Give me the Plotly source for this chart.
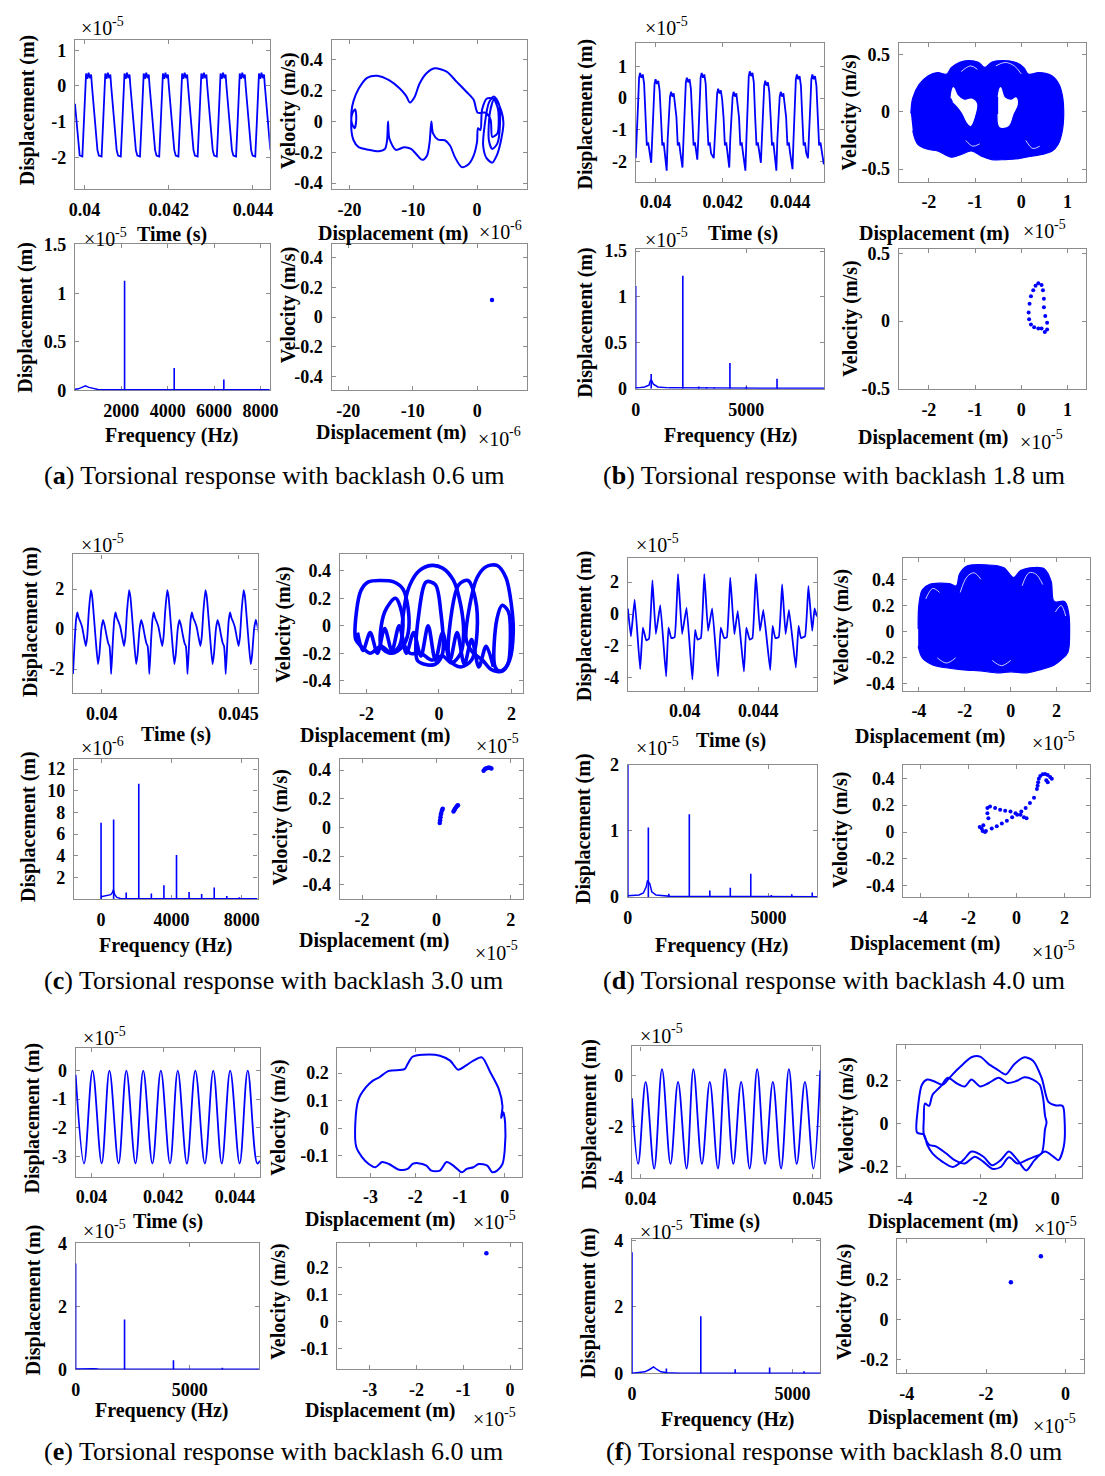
import plotly.graph_objects as go

W, H = 1105, 1476
BLUE = "#0000ff"
GRAY = "#8c8c8c"
SERIF = "Liberation Serif"

# ======================= DATA =======================
# ---- (a) backlash 0.6 um ----
a_lead_ms = [39.776, 39.816, 39.856]
a_lead_y = [-0.5, -1.0, -1.6]
a_trough_ms = [39.920, 40.376, 40.832, 41.288, 41.744, 42.200, 42.656, 43.112, 43.568, 44.024]
a_cycle_dt = [-0.032, 0.032, 0.07, 0.10, 0.12, 0.15, 0.18, 0.21, 0.24, 0.26, 0.33, 0.39]
a_cycle_y = [-1.95, -1.98, -1.0, 0.1, 0.35, 0.2, 0.37, 0.22, 0.32, 0.0, -1.1, -1.8]

a_ph_x = [0.11, -0.53, -1.59, -3.18, -4.77, -6.63, -7.96, -9.02, -9.81, -10.5, -11.14, -12.2, -13.8,
          -15.65, -17.24, -18.57, -19.36, -19.68, -19.63, -19.2, -18.94, -19.1, -19.52, -19.73, -19.36,
          -18.57, -16.98, -15.38, -14.43, -14.1, -13.95, -13.74, -12.73, -11.4, -10.34, -9.55, -8.59,
          -7.85, -7.43, -7.16, -6.9, -6.1, -5.04, -4.24, -3.45, -2.39, -1.33, -0.53, 0.0, 0.16, 0.53,
          0.8, 1.59, 2.92, 3.82, 4.14, 3.71, 3.08, 2.39, 1.49, 0.96, 1.17, 1.86, 2.65, 3.45, 3.61, 3.18,
          2.39, 1.86, 2.02, 2.65, 3.29, 3.18, 2.39, 2.12, 1.33, 0.11]
a_ph_y = [0.056, 0.14, 0.189, 0.256, 0.322, 0.344, 0.311, 0.244, 0.156, 0.122, 0.167, 0.216, 0.267,
          0.296, 0.282, 0.211, 0.133, 0.067, -0.011, -0.044, 0.011, 0.078, 0.056, -0.033, -0.122,
          -0.167, -0.184, -0.193, -0.178, -0.122, 0.0, -0.111, -0.184, -0.167, -0.178, -0.211, -0.249,
          -0.222, -0.133, 0.0, -0.078, -0.118, -0.122, -0.156, -0.233, -0.296, -0.278, -0.222, -0.133,
          -0.044, -0.056, 0.078, 0.149, 0.14, 0.067, -0.011, -0.133, -0.222, -0.267, -0.238, -0.156,
          -0.033, 0.122, 0.162, 0.111, -0.011, -0.144, -0.178, -0.122, 0.056, 0.14, 0.078, -0.078,
          -0.1, 0.011, 0.056, 0.056]

a_base_f = [0, 150, 300, 450, 600, 800, 1000, 1500, 8400]
a_base_a = [0.01, 0.015, 0.03, 0.045, 0.03, 0.015, 0.008, 0.005, 0.005]
a_spk_f = [2140, 4280, 6420]
a_spk_a = [1.13, 0.23, 0.11]

a_pc_x = [2.3]
a_pc_y = [0.115]

# ---- (b) backlash 1.8 um ----
b_trough_ms = [39.41, 39.87, 40.33, 40.80, 41.24, 41.73, 42.19, 42.67, 43.13, 43.59, 44.07, 44.53, 45.0]
b_trough_y = [-1.9, -2.05, -2.3, -2.2, -1.95, -1.9, -2.2, -2.3, -2.05, -2.3, -2.25, -1.9, -2.1]
b_peak_y = [0.8, 0.6, 0.2, 0.65, 0.8, 0.3, 0.2, 0.85, 0.55, 0.2, 0.75, 0.75]
b_shape_dt = [0.03, 0.07, 0.10, 0.13, 0.17, 0.21, 0.25, 0.29, 0.33, 0.37, 0.41]
b_shape_v = [-1.3, -0.2, -0.15, 0.0, -0.15, -0.05, -0.35, -0.6, -1.5, -1.4, -1.75]
b_shape_rel = [False, False, True, True, True, True, True, False, False, False, False]

b_blob_x = [-2.39, -2.35, -2.21, -2.02, -1.81, -1.62, -1.51, -1.33, -1.15, -0.93, -0.79, -0.64, -0.42,
            -0.13, 0.05, 0.16, 0.38, 0.67, 0.82, 0.9, 0.92, 0.89, 0.8, 0.67, 0.45, 0.23, -0.06, -0.35,
            -0.64, -0.86, -1.08, -1.3, -1.51, -1.81, -2.02, -2.24, -2.35]
b_blob_y = [-0.015, 0.119, 0.238, 0.3125, 0.342, 0.327, 0.387, 0.432, 0.446, 0.432, 0.387, 0.432, 0.446,
            0.432, 0.387, 0.327, 0.342, 0.3125, 0.238, 0.119, -0.015, -0.164, -0.283, -0.342, -0.372,
            -0.387, -0.408, -0.417, -0.417, -0.387, -0.342, -0.372, -0.396, -0.342, -0.327, -0.283, -0.164]
b_hole1_x = [-1.52, -1.47, -1.38, -1.24, -1.08, -0.97, -1.0, -1.1, -1.17, -1.27, -1.38, -1.48]
b_hole1_y = [0.12, 0.21, 0.14, 0.1, 0.11, 0.07, -0.02, -0.12, -0.09, -0.01, 0.05, 0.09]
b_hole2_x = [-0.5, -0.45, -0.36, -0.22, -0.11, -0.09, -0.18, -0.28, -0.46, -0.5]
b_hole2_y = [0.13, 0.21, 0.12, 0.1, 0.12, 0.06, -0.02, -0.12, -0.13, -0.02]
b_streak_x = [[-0.55, -0.35, -0.15, 0.0], [-1.3, -1.1, -0.95], [0.1, 0.25, 0.4], [-1.2, -1.05, -0.9]]
b_streak_y = [[0.40, 0.43, 0.40, 0.33], [0.35, 0.40, 0.37], [-0.25, -0.32, -0.30], [-0.25, -0.30, -0.28]]

b_base_f = [0, 100, 400, 600, 650, 700, 800, 1000, 1500, 8520]
b_base_a = [0.01, 0.01, 0.02, 0.04, 0.08, 0.1, 0.05, 0.02, 0.01, 0.005]
b_spk_f = [0, 700, 2130, 2850, 3200, 3550, 4260, 5000, 6390]
b_spk_a = [1.12, 0.16, 1.23, 0.025, 0.02, 0.015, 0.28, 0.025, 0.11]

b_pc_x = [0.37, 0.44, 0.47, 0.49, 0.49, 0.52, 0.56, 0.56, 0.51, 0.44, 0.37, 0.28, 0.21, 0.17, 0.16,
          0.18, 0.21, 0.26, 0.31]
b_pc_y = [0.278, 0.266, 0.228, 0.165, 0.101, 0.038, -0.013, -0.063, -0.081, -0.056, -0.056, -0.046,
          -0.025, 0.013, 0.063, 0.127, 0.182, 0.228, 0.261]

# ---- (c) backlash 3.0 um ----
c_start_ms = [38.951, 40.346, 41.741, 43.136, 44.531]
c_shape_dt = [0, 0.062, 0.111, 0.160, 0.210, 0.272, 0.333, 0.395, 0.469, 0.519, 0.580, 0.654, 0.704,
              0.765, 0.840, 0.914, 0.963, 1.037, 1.099, 1.161, 1.222, 1.284, 1.333, 1.370]
c_shape_y = [-2.25, -0.6, 0.45, 0.83, 0.55, 0.35, 0.1, -0.35, -0.85, -0.4, 0.9, 1.94, 1.6, 0.6, -0.7,
             -1.75, -1.3, 0.0, 0.45, 0.15, -0.3, -0.7, -0.85, -1.5]

c_loops_x = [
    [-2.3, -2.28, -2.15, -1.95, -1.6, -1.25, -1.0, -0.85, -0.85, -1.0, -1.3, -1.6, -1.9, -2.15, -2.3],
    [-1.0, -0.95, -0.8, -0.55, -0.2, 0.1, 0.4, 0.6, 0.68, 0.6, 0.35, 0.1, -0.2, -0.5, -0.8, -1.0],
    [0.75, 0.85, 1.05, 1.3, 1.6, 1.85, 2.0, 2.05, 1.95, 1.75, 1.45, 1.2, 0.95, 0.75],
    [-1.6, -1.5, -1.2, -1.0, -1.1, -1.35, -1.6],
    [-0.6, -0.55, -0.35, -0.1, 0.05, 0.1, -0.1, -0.4, -0.6],
    [1.55, 1.6, 1.75, 1.92, 1.97, 1.9, 1.7, 1.55],
    [0.3, 0.35, 0.55, 0.8, 1.0, 1.05, 0.9, 0.6, 0.3],
    [-2.25, -2.1, -1.9, -1.7, -1.5, -1.3, -1.1, -0.9, -0.7, -0.5, -0.3, -0.1, 0.1, 0.3, 0.5, 0.7, 0.9,
     1.1, 1.3, 1.5],
]
c_loops_y = [
    [-0.1, 0.1, 0.26, 0.32, 0.33, 0.32, 0.27, 0.12, -0.05, -0.15, -0.2, -0.15, -0.2, -0.15, -0.1],
    [-0.1, 0.15, 0.3, 0.4, 0.44, 0.42, 0.33, 0.15, -0.05, -0.2, -0.27, -0.22, -0.25, -0.2, -0.2, -0.1],
    [-0.1, 0.15, 0.35, 0.43, 0.44, 0.35, 0.15, -0.05, -0.25, -0.33, -0.32, -0.25, -0.2, -0.1],
    [-0.15, 0.1, 0.2, 0.05, -0.15, -0.2, -0.15],
    [-0.25, 0.1, 0.32, 0.3, 0.1, -0.2, -0.28, -0.28, -0.25],
    [-0.3, 0.05, 0.15, 0.1, -0.1, -0.28, -0.33, -0.3],
    [-0.25, 0.1, 0.3, 0.33, 0.2, -0.05, -0.25, -0.3, -0.25],
    [-0.05, -0.18, -0.05, -0.2, -0.02, -0.18, 0.0, -0.2, -0.05, -0.22, 0.0, -0.25, -0.05, -0.25,
     -0.05, -0.28, -0.1, -0.3, -0.15, -0.3],
]

c_base_f = [0, 200, 400, 550, 650, 700, 730, 780, 900, 1100, 1500, 8900]
c_base_a = [0.2, 0.25, 0.3, 0.4, 0.6, 0.85, 0.7, 0.4, 0.15, 0.05, 0.03, 0.02]
c_spk_f = [0, 715, 1430, 2145, 2860, 3575, 4290, 5005, 5720, 6435, 7150, 7865, 8580]
c_spk_a = [7.05, 7.35, 0.59, 10.65, 0.5, 1.27, 4.07, 0.65, 0.47, 1.06, 0.28, 0.15, 0.1]

c_pc_x = [0.09, 0.1, 0.11, 0.12, 0.13, 0.15, 0.17, 0.46, 0.48, 0.5, 0.53, 0.56, 0.58,
          1.27, 1.3, 1.33, 1.37, 1.41, 1.45, 1.48]
c_pc_y = [0.03, 0.05, 0.07, 0.09, 0.1, 0.12, 0.13, 0.11, 0.12, 0.13, 0.14, 0.15, 0.155,
          0.395, 0.405, 0.41, 0.415, 0.418, 0.415, 0.41]

# ---- (d) backlash 4.0 um ----
d_t_ms = [36.894, 37.061, 37.266, 37.563, 37.712, 37.898, 38.047, 38.233, 38.419, 38.661, 38.977,
          39.107, 39.256, 39.442, 39.628, 39.851, 40.093, 40.409, 40.558, 40.688, 40.874, 41.060,
          41.265, 41.488, 41.804, 41.953, 42.139, 42.288, 42.474, 42.697, 42.883, 43.218, 43.348,
          43.534, 43.683, 43.869, 44.092, 44.278, 44.650, 44.780, 44.929, 45.115, 45.301, 45.487,
          45.673, 46.045, 46.194, 46.324, 46.547, 46.733, 46.938, 47.068, 47.198]
d_y = [0.34, -1.4, 0.9, -3.45, -0.85, -1.65, -1.55, 2.1, -1.25, 0.55, -3.9, -0.85, -1.5, -1.45, 2.5,
       -1.25, 0.4, -4.1, -1.0, -1.6, -1.5, 2.5, -1.05, 0.35, -3.9, -0.85, -1.5, -1.45, 2.27, -1.27, 0.2,
       -3.6, -0.85, -1.6, -1.5, 2.5, -1.05, 0.25, -3.5, -0.75, -1.5, -1.45, 1.85, -1.25, 0.25, -3.35,
       -0.75, -1.5, -1.4, 1.75, -1.05, 0.35, -0.15]

d_blob_x = [-4.03, -4.0, -3.85, -3.55, -2.67, -2.37, -2.23, -1.93, -1.05, -0.31, 0.13, 0.43, 1.02, 1.46,
            1.76, 1.9, 2.35, 2.52, 2.57, 2.49, 2.2, 1.9, 1.31, 0.72, 0.0, -0.6, -1.34, -1.93, -2.67,
            -3.4, -3.85, -4.03]
d_blob_y = [0.02, 0.204, 0.32, 0.36, 0.367, 0.35, 0.44, 0.50, 0.51, 0.49, 0.414, 0.467, 0.49, 0.48,
            0.388, 0.23, 0.23, 0.152, 0.0, -0.16, -0.215, -0.254, -0.29, -0.315, -0.307, -0.315, -0.30,
            -0.294, -0.28, -0.254, -0.2, -0.11]
d_streak_x = [[-2.2, -1.9, -1.6, -1.3], [0.5, 0.8, 1.1, 1.4], [-3.7, -3.4, -3.1], [1.95, 2.2, 2.4],
              [-3.2, -2.8, -2.4], [-0.8, -0.4, 0.0]]
d_streak_y = [[0.3, 0.42, 0.45, 0.4], [0.35, 0.45, 0.44, 0.36], [0.25, 0.33, 0.3], [0.15, 0.2, 0.12],
              [-0.2, -0.24, -0.2], [-0.22, -0.26, -0.22]]

d_base_f = [0, 200, 400, 550, 650, 700, 780, 850, 1000, 1500, 6720]
d_base_a = [0.02, 0.02, 0.03, 0.06, 0.15, 0.25, 0.2, 0.08, 0.03, 0.01, 0.005]
d_spk_f = [0, 728, 1456, 2184, 2912, 3640, 4368, 5096, 5824, 6552]
d_spk_a = [2.0, 1.05, 0.05, 1.25, 0.1, 0.14, 0.35, 0.03, 0.04, 0.07]

d_pc_x = [0.90, 0.93, 0.99, 1.09, 1.19, 1.3, 1.4, 1.47, 1.3, 1.24, 0.88, 0.85, 0.73, 0.56, 0.38,
          -1.1, -0.89, -0.68, -0.47, -0.25, -0.04, 0.17, 0.31, 0.42, -1.21, -1.21, -1.17,
          -1.45, -1.27, -1.03, -0.82, -0.61, -0.4, -0.18, 0.03, 0.2, -1.53, -1.38, -1.31, -1.41]
d_pc_y = [0.37, 0.396, 0.417, 0.43, 0.432, 0.424, 0.41, 0.396, 0.37, 0.386, 0.345, 0.32, 0.256, 0.217,
          0.179, 0.19, 0.179, 0.166, 0.158, 0.153, 0.14, 0.128, 0.11, 0.102, 0.179, 0.14, 0.102,
          0.026, 0.008, 0.026, 0.043, 0.064, 0.084, 0.11, 0.128, 0.153, 0.038, 0.051, 0.0, 0.008]

# ---- (e) backlash 6.0 um ----
e_t_ms = [39.557, 39.792, 40.028, 40.283, 40.5, 40.755, 40.972, 41.226, 41.443, 41.698, 41.934, 42.189,
          42.406, 42.66, 42.896, 43.16, 43.396, 43.632, 43.868, 44.132, 44.358, 44.623, 44.698]
e_y = [-0.15, -3.25, 0.0, -3.25, 0.0, -3.25, 0.0, -3.25, 0.0, -3.25, 0.0, -3.25, 0.0, -3.25, 0.0, -3.25,
       0.0, -3.25, 0.0, -3.25, 0.0, -3.25, -3.15]

e_ph_x = [-3.32, -3.34, -3.27, -3.11, -2.96, -2.81, -2.59, -2.24, -2.17, -2.06, -1.83, -1.45, -1.22,
          -1.04, -0.88, -0.7, -0.51, -0.32, -0.13, -0.05, -0.08, -0.03, 0.01, 0.0, -0.05, -0.17, -0.28,
          -0.39, -0.58, -0.7, -0.85, -0.96, -1.15, -1.3, -1.45, -1.64, -1.75, -1.94, -2.06, -2.17,
          -2.36, -2.59, -2.74, -2.89, -3.04, -3.19, -3.32]
e_ph_y = [-0.067, 0.018, 0.104, 0.147, 0.171, 0.184, 0.208, 0.214, 0.233, 0.259, 0.266, 0.263, 0.245,
          0.212, 0.226, 0.245, 0.257, 0.202, 0.141, 0.08, 0.037, 0.058, 0.018, -0.08, -0.129, -0.153,
          -0.159, -0.135, -0.129, -0.141, -0.147, -0.159, -0.135, -0.122, -0.153, -0.153, -0.135,
          -0.126, -0.129, -0.147, -0.15, -0.129, -0.122, -0.141, -0.129, -0.104, -0.067]

e_base_f = [0, 300, 550, 670, 800, 1000, 8040]
e_base_a = [0.01, 0.015, 0.03, 0.04, 0.02, 0.01, 0.005]
e_spk_f = [0, 2145, 4290, 6435]
e_spk_a = [3.37, 1.59, 0.29, 0.05]

e_pc_x = [-0.505]
e_pc_y = [0.253]

# ---- (f) backlash 8.0 um ----
f_t_ms = [39.752, 39.931, 40.149, 40.396, 40.624, 40.871, 41.089, 41.337, 41.535, 41.782, 42.01,
          42.247, 42.455, 42.693, 42.921, 43.168, 43.386, 43.614, 43.841, 44.079, 44.307, 44.534,
          44.772, 45.019, 45.217]
f_y = [-0.89, -3.45, -0.25, -3.63, 0.24, -3.45, -0.25, -3.63, 0.24, -3.45, -0.25, -3.63, 0.24, -3.45,
       -0.25, -3.63, 0.24, -3.45, -0.25, -3.63, 0.24, -3.45, -0.25, -3.63, 0.2]

f_outer_x = [-3.68, -3.66, -3.55, -3.41, -3.23, -3.0, -2.82, -2.55, -2.23, -2.0, -1.77, -1.55, -1.32,
             -1.09, -0.82, -0.59, -0.36, -0.18, 0.0, 0.2, 0.25, 0.23, 0.09, -0.05, -0.27, -0.55, -0.77,
             -1.0, -1.23, -1.45, -1.68, -1.91, -2.23, -2.45, -2.73, -3.0, -3.27, -3.41, -3.5, -3.68]
f_outer_y = [-0.043, 0.069, 0.181, 0.205, 0.197, 0.181, 0.213, 0.261, 0.309, 0.312, 0.277, 0.253, 0.229,
             0.277, 0.309, 0.293, 0.213, 0.101, 0.085, 0.082, 0.021, -0.107, -0.171, -0.155, -0.131,
             -0.171, -0.219, -0.171, -0.131, -0.171, -0.195, -0.155, -0.131, -0.171, -0.203, -0.179,
             -0.139, -0.099, -0.051, -0.043]
f_inner_x = [-3.5, -3.47, -3.36, -3.27, -3.05, -2.86, -2.64, -2.41, -2.23, -2.0, -1.77, -1.5, -1.27,
             -1.05, -0.82, -0.59, -0.41, -0.32, -0.27, -0.23, -0.27, -0.36, -0.55, -0.77, -1.0, -1.23,
             -1.45, -1.68, -1.91, -2.14, -2.41, -2.68, -2.91, -3.18, -3.36, -3.5, -3.5]
f_inner_y = [0.021, 0.093, 0.082, 0.133, 0.173, 0.213, 0.189, 0.173, 0.205, 0.173, 0.189, 0.213, 0.189,
             0.197, 0.216, 0.205, 0.181, 0.117, 0.037, 0.005, -0.027, -0.139, -0.155, -0.171, -0.187,
             -0.158, -0.203, -0.211, -0.179, -0.155, -0.187, -0.171, -0.139, -0.107, -0.099, -0.051, 0.021]

f_base_f = [0, 200, 400, 550, 670, 780, 900, 1100, 1500, 5870]
f_base_a = [0.01, 0.02, 0.05, 0.12, 0.2, 0.12, 0.05, 0.02, 0.01, 0.01]
f_spk_f = [0, 1072, 2145, 3217, 4290, 5362]
f_spk_a = [3.64, 0.15, 1.72, 0.13, 0.18, 0.07]

f_pc_x = [-0.62, -1.376]
f_pc_y = [0.318, 0.187]

# ---- tick label sets ----
TA, TA_T = [0.040, 0.042, 0.044], ["0.04", "0.042", "0.044"]
TB, TB_T = [0.040, 0.045], ["0.04", "0.045"]
TC, TC_T = [0.040, 0.044], ["0.04", "0.044"]
V4, V4_T = [-0.4, -0.2, 0, 0.2, 0.4], ["-0.4", "-0.2", "0", "0.2", "0.4"]
V5, V5_T = [-0.5, 0, 0.5], ["-0.5", "0", "0.5"]
V1, V1_T = [-0.1, 0, 0.1, 0.2], ["-0.1", "0", "0.1", "0.2"]
V2, V2_T = [-0.2, 0, 0.2], ["-0.2", "0", "0.2"]
F5, F5_T = [0, 5000], ["0", "5000"]

CAPTIONS = ["0.6", "1.8", "3.0", "4.0", "6.0", "8.0"]

# ======================= HELPERS =======================
fig = go.Figure()
_n = [0]


def axes(box, xr, xt, xtt, yr, yt, ytt):
    _n[0] += 1
    n = _n[0]
    x0, x1, y0, y1 = box
    s = "" if n == 1 else str(n)
    common = dict(showline=True, linecolor=GRAY, linewidth=1.3, mirror="ticks",
                  ticks="inside", ticklen=4, tickwidth=1, tickcolor=GRAY,
                  showgrid=False, zeroline=False, layer="below traces",
                  tickfont=dict(family=SERIF, size=18, color="black", weight="bold"),
                  ticklabelstandoff=4, tickmode="array", fixedrange=True)
    fig.update_layout(**{
        "xaxis" + s: dict(domain=[x0 / W, x1 / W], range=xr, tickvals=xt, ticktext=xtt,
                          anchor="y" + s, **common),
        "yaxis" + s: dict(domain=[1 - y1 / H, 1 - y0 / H], range=yr, tickvals=yt, ticktext=ytt,
                          anchor="x" + s, **common),
    })
    return "x" + s, "y" + s


def line(ax, x, y, width=1.7, shape="linear", smoothing=1.0, color=BLUE):
    fig.add_trace(go.Scatter(x=x, y=y, xaxis=ax[0], yaxis=ax[1], mode="lines",
                             line=dict(color=color, width=width, shape=shape, smoothing=smoothing),
                             hoverinfo="skip", showlegend=False))


def fill(ax, x, y, color=BLUE):
    fig.add_trace(go.Scatter(x=x, y=y, xaxis=ax[0], yaxis=ax[1], mode="lines", fill="toself",
                             fillcolor=color, line=dict(color=color, width=1.2, shape="spline"),
                             hoverinfo="skip", showlegend=False))


def dots(ax, x, y, size=4.5):
    fig.add_trace(go.Scatter(x=x, y=y, xaxis=ax[0], yaxis=ax[1], mode="markers",
                             marker=dict(color=BLUE, size=size), hoverinfo="skip", showlegend=False))


def spectrum(ax, bf, ba, sf, sa):
    line(ax, bf, ba, width=1.5)
    xs, ys = [], []
    for f, a in zip(sf, sa):
        xs += [f, f, None]
        ys += [0, a, None]
    line(ax, xs, ys, width=1.6)


def txt(x, y, s, size=20, bold=True, angle=0):
    fig.add_annotation(x=x / W, y=1 - y / H, xref="paper", yref="paper", text=s, showarrow=False,
                       textangle=angle, xanchor="center", yanchor="middle",
                       font=dict(family=SERIF, size=size, color="black",
                                 weight="bold" if bold else "normal"))


def expo(x, y, e):
    txt(x - 6, y + 1, "\u00d710", size=20, bold=False)
    txt(x + 16, y - 6, "-%d" % e, size=14, bold=False)


def ms(lst):
    return [t / 1000.0 for t in lst]


DISP = "Displacement (m)"
VEL = "Velocity (m/s)"

# ======================= (a) =======================
ax = axes((69.2, 267.6, 30.0, 181.8), [0.039776, 0.0444], TA, TA_T, [-2.9, 1.3],
          [-2, -1, 0, 1], ["-2", "-1", "0", "1"])
ts, ys = list(a_lead_ms), list(a_lead_y)
for c in a_trough_ms:
    for dt, v in zip(a_cycle_dt, a_cycle_y):
        ts.append(c + dt)
        ys.append(v)
line(ax, ms(ts), ys, width=1.8)

ax = axes((330.6, 530.0, 30.0, 181.8), [-22.8, 7.9], [-20, -10, 0], ["-20", "-10", "0"],
          [-0.44, 0.53], V4, V4_T)
line(ax, a_ph_x, a_ph_y, width=2.0, shape="spline", smoothing=0.8)

ax = axes((69.2, 267.6, 237.2, 385.5), [0, 8400], [2000, 4000, 6000, 8000],
          ["2000", "4000", "6000", "8000"], [0, 1.51], [0, 0.5, 1, 1.5], ["0", "0.5", "1", "1.5"])
spectrum(ax, a_base_f, a_base_a, a_spk_f, a_spk_a)

ax = axes((330.6, 530.0, 237.2, 385.5), [-22.6, 7.8], [-20, -10, 0], ["-20", "-10", "0"],
          [-0.49, 0.49], V4, V4_T)
dots(ax, a_pc_x, a_pc_y)

expo(97, 17.6, 5)
txt(21.7, 101.3, DISP, angle=-90)
txt(168.4, 227.3, "Time (s)")
expo(100.2, 231.4, 5)
txt(287.2, 102.3, VEL, angle=-90)
txt(393.6, 226.3, DISP)
expo(502.1, 224.2, 6)
txt(18.6, 311.6, DISP, angle=-90)
txt(168.4, 431.5, "Frequency (Hz)")
txt(286.2, 299.2, VEL, angle=-90)
txt(391.6, 428.4, DISP)
expo(501.1, 433.5, 6)

# ======================= (b) =======================
ax = axes((640.3, 832.2, 33.4, 174.1), [0.03941, 0.04501], TA, TA_T, [-2.65, 1.75],
          [-2, -1, 0, 1], ["-2", "-1", "0", "1"])
ts, ys = [], []
for i in range(len(b_peak_y)):
    T = b_trough_ms[i]
    ts.append(T)
    ys.append(b_trough_y[i])
    for dt, v, rel in zip(b_shape_dt, b_shape_v, b_shape_rel):
        ts.append(T + dt)
        ys.append(b_peak_y[i] + v if rel else v)
ts.append(b_trough_ms[-1])
ys.append(b_trough_y[-1])
line(ax, ms(ts), ys, width=1.8)

ax = axes((908.3, 1098.8, 33.4, 174.1), [-2.65, 1.4], [-2, -1, 0, 1], ["-2", "-1", "0", "1"],
          [-0.61, 0.6], V5, V5_T)
fill(ax, b_blob_x, b_blob_y)
fill(ax, b_hole1_x, b_hole1_y, color="white")
fill(ax, b_hole2_x, b_hole2_y, color="white")
for sx, sy in zip(b_streak_x, b_streak_y):
    line(ax, sx, sy, width=0.8, shape="spline", color="white")

ax = axes((640.3, 832.2, 242.5, 384.0), [0, 8520], F5, F5_T, [0, 1.52], [0, 0.5, 1, 1.5],
          ["0", "0.5", "1", "1.5"])
spectrum(ax, b_base_f, b_base_a, b_spk_f, b_spk_a)

ax = axes((908.3, 1098.8, 242.5, 384.0), [-2.65, 1.4], [-2, -1, 0, 1], ["-2", "-1", "0", "1"],
          [-0.5, 0.53], V5, V5_T)
dots(ax, b_pc_x, b_pc_y, size=4)

expo(671.6, 17.7, 5)
txt(589.2, 105.3, DISP, angle=-90)
txt(749.8, 226.3, "Time (s)")
expo(671.6, 232.0, 5)
txt(858.2, 104.3, VEL, angle=-90)
txt(944.8, 226.3, DISP)
expo(1056.4, 223.2, 5)
txt(589.2, 316.6, DISP, angle=-90)
txt(737.3, 431.3, "Frequency (Hz)")
txt(858.2, 313.4, VEL, angle=-90)
txt(943.8, 433.3, DISP)
expo(1053.2, 436.5, 5)

# ======================= (c) =======================
ax = axes((67.2, 255.2, 551.9, 692.4), [0.038951, 0.045695], TB, TB_T, [-3.2, 3.73],
          [-2, 0, 2], ["-2", "0", "2"])
ts, ys = [], []
for c in c_start_ms:
    for dt, v in zip(c_shape_dt, c_shape_y):
        ts.append(c + dt)
        ys.append(v)
line(ax, ms(ts), ys, width=1.8, shape="spline", smoothing=0.5)

ax = axes((338.9, 525.9, 551.9, 692.4), [-2.74, 2.33], [-2, 0, 2], ["-2", "0", "2"],
          [-0.49, 0.52], V4, V4_T)
for lx, ly in zip(c_loops_x, c_loops_y):
    line(ax, lx, ly, width=3.6, shape="spline", smoothing=0.9)

ax = axes((68.2, 255.2, 759.6, 901.2), [-1540, 8900], [0, 4000, 8000], ["0", "4000", "8000"],
          [0, 12.9], [2, 4, 6, 8, 10, 12], ["2", "4", "6", "8", "10", "12"])
spectrum(ax, c_base_f, c_base_a, c_spk_f, c_spk_a)

ax = axes((338.9, 525.9, 759.6, 901.2), [-2.6, 2.34], [-2, 0, 2], ["-2", "0", "2"],
          [-0.5, 0.475], V4, V4_T)
dots(ax, c_pc_x, c_pc_y, size=4.5)

expo(97.1, 541.5, 5)
txt(23.8, 620.1, DISP, angle=-90)
txt(172.5, 734.7, "Time (s)")
expo(97.1, 747.2, 6)
txt(282.1, 623.2, VEL, angle=-90)
txt(375.1, 735.0, DISP)
expo(499.0, 745.0, 5)
txt(21.7, 827.8, DISP, angle=-90)
txt(162.2, 948.7, "Frequency (Hz)")
txt(279.0, 828.9, VEL, angle=-90)
txt(374.0, 943.5, DISP)
expo(498.0, 954.5, 5)

# ======================= (d) =======================
ax = axes((632.3, 824.9, 555.6, 690.1), [0.036894, 0.047198], TC, TC_T, [-4.8, 3.5],
          [-4, -2, 0, 2], ["-4", "-2", "0", "2"])
line(ax, ms(d_t_ms), d_y, width=1.8, shape="spline", smoothing=0.3)

ax = axes((912.8, 1103.0, 555.6, 690.1), [-4.68, 3.46], [-4, -2, 0, 2], ["-4", "-2", "0", "2"],
          [-0.452, 0.5625], V4, V4_T)
fill(ax, d_blob_x, d_blob_y)
for sx, sy in zip(d_streak_x, d_streak_y):
    line(ax, sx, sy, width=0.8, shape="spline", color="white")

ax = axes((632.3, 824.9, 765.0, 899.2), [0, 6720], F5, F5_T, [0, 2.0], [0, 1, 2], ["0", "1", "2"])
spectrum(ax, d_base_f, d_base_a, d_spk_f, d_spk_a)

ax = axes((912.8, 1103.0, 765.0, 899.2), [-4.71, 3.06], [-4, -2, 0, 2], ["-4", "-2", "0", "2"],
          [-0.484, 0.502], V4, V4_T)
dots(ax, d_pc_x, d_pc_y, size=4)

expo(662.2, 541.7, 5)
txt(588.2, 624.1, DISP, angle=-90)
txt(737.3, 740.9, "Time (s)")
txt(849.9, 626.2, VEL, angle=-90)
txt(940.6, 736.5, DISP)
expo(1065.8, 742.5, 5)
expo(662.2, 747.3, 5)
txt(587.1, 829.7, DISP, angle=-90)
txt(727.9, 948.6, "Frequency (Hz)")
txt(848.9, 831.8, VEL, angle=-90)
txt(935.4, 946.0, DISP)
expo(1065.8, 954.0, 5)

# ======================= (e) =======================
ax = axes((69.9, 257.6, 1051.9, 1182.7), [0.039557, 0.044698], TA, TA_T, [-3.71, 0.8],
          [-3, -2, -1, 0], ["-3", "-2", "-1", "0"])
line(ax, ms(e_t_ms), e_y, width=1.8, shape="spline", smoothing=1.0)

ax = axes((336.5, 524.2, 1051.9, 1182.7), [-3.74, 0.38], [-3, -2, -1, 0],
          ["-3", "-2", "-1", "0"], [-0.175, 0.292], V1, V1_T)
line(ax, e_ph_x, e_ph_y, width=2.0, shape="spline", smoothing=0.8)

ax = axes((69.9, 256.6, 1250.0, 1378.1), [0, 8040], F5, F5_T, [0, 4.02], [0, 2, 4], ["0", "2", "4"])
spectrum(ax, e_base_f, e_base_a, e_spk_f, e_spk_a)

ax = axes((336.5, 524.2, 1250.0, 1378.1), [-3.69, 0.25], [-3, -2, -1, 0],
          ["-3", "-2", "-1", "0"], [-0.178, 0.291], V1, V1_T)
dots(ax, e_pc_x, e_pc_y)

expo(99.2, 1041.5, 5)
txt(26.9, 1123.2, DISP, angle=-90)
txt(164.3, 1228.5, "Time (s)")
expo(99.2, 1237.2, 5)
txt(276.9, 1123.2, VEL, angle=-90)
txt(380.2, 1226.5, DISP)
expo(495.9, 1228.0, 5)
txt(26.9, 1307.5, DISP, angle=-90)
txt(158.1, 1419.5, "Frequency (Hz)")
txt(276.9, 1309.6, VEL, angle=-90)
txt(380.2, 1419.5, DISP)
expo(495.9, 1427.5, 5)

# ======================= (f) =======================
ax = axes((636.5, 828.3, 1050.6, 1184.1), [0.039752, 0.045218], TB, TB_T, [-4.0, 1.13],
          [-4, -2, 0], ["-4", "-2", "0"])
line(ax, ms(f_t_ms), f_y, width=1.8, shape="spline", smoothing=1.0)

ax = axes((906.6, 1094.6, 1049.5, 1184.4), [-4.21, 0.71], [-4, -2, 0], ["-4", "-2", "0"],
          [-0.256, 0.365], V2, V2_T)
line(ax, f_outer_x, f_outer_y, width=2.0, shape="spline", smoothing=0.8)
line(ax, f_inner_x, f_inner_y, width=2.0, shape="spline", smoothing=0.8)

ax = axes((636.5, 828.3, 1245.6, 1382.2), [0, 5870], F5, F5_T, [0, 4.05], [0, 2, 4], ["0", "2", "4"])
spectrum(ax, f_base_f, f_base_a, f_spk_f, f_spk_a)

ax = axes((906.6, 1097.0, 1245.6, 1382.2), [-4.24, 0.47], [-4, -2, 0], ["-4", "-2", "0"],
          [-0.27, 0.406], V2, V2_T)
dots(ax, f_pc_x, f_pc_y)

expo(666.4, 1038.8, 5)
txt(593.4, 1119.1, DISP, angle=-90)
txt(731.0, 1228.5, "Time (s)")
expo(666.4, 1238.0, 5)
txt(854.1, 1121.2, VEL, angle=-90)
txt(954.2, 1228.6, DISP)
expo(1067.8, 1233.8, 5)
txt(592.3, 1310.3, DISP, angle=-90)
txt(734.1, 1429.0, "Frequency (Hz)")
txt(853.0, 1310.3, VEL, angle=-90)
txt(954.2, 1427.0, DISP)
expo(1066.8, 1434.0, 5)

# ======================= captions =======================
cap_pos = [(272, 472), (842, 472), (271, 984), (842, 984), (271, 1461), (842, 1461)]
for letter, val, (cx, cy) in zip("abcdef", CAPTIONS, cap_pos):
    txt(cx, cy, "(<b>%s</b>) Torsional response with backlash %s um" % (letter, val),
        size=26, bold=False)

fig.update_layout(width=W, height=H, margin=dict(l=0, r=0, t=0, b=0),
                  paper_bgcolor="white", plot_bgcolor="white", showlegend=False)

fig.write_html("out.html")
